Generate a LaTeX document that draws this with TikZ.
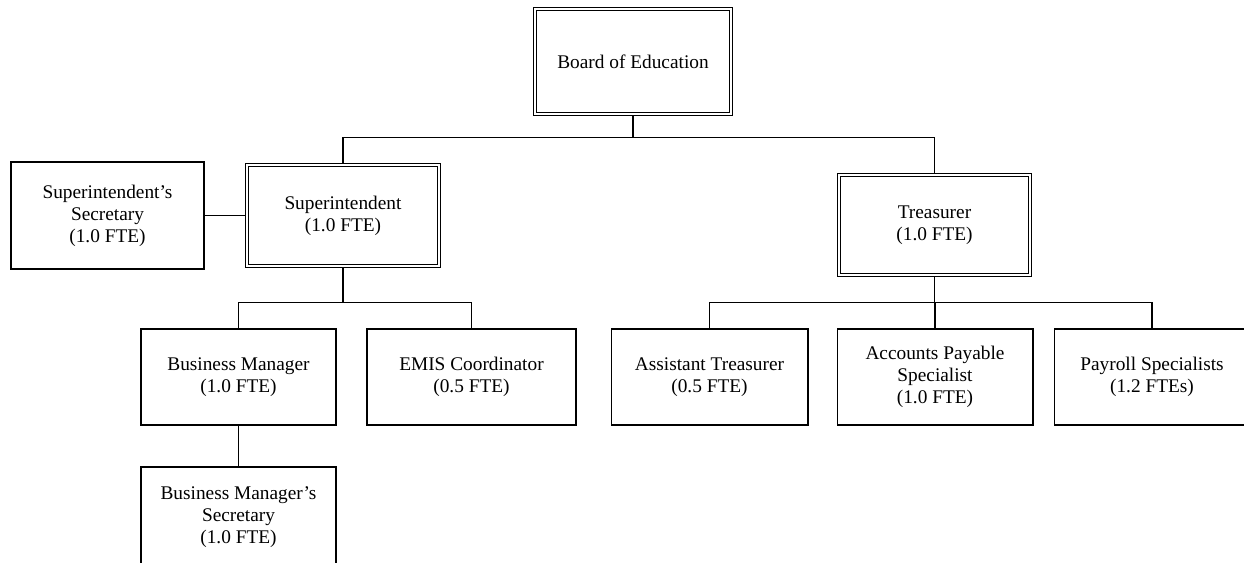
\documentclass[tikz,border=0pt]{standalone}
\usepackage{fontspec}
\setmainfont{Liberation Serif}

\tikzset{
	post/.style={draw,line width=0.6pt,align=center,font=\fontsize{11}{12.6}\selectfont,
		inner sep=2pt,outer sep=0pt},
	headpost/.style={post,line width=0.5pt,double,double distance=1.2pt,outer sep=1.1pt},
	link/.style={line width=0.6pt}
}

\begin{document}
\begin{tikzpicture}[x=0.02cm,y=-0.02cm]
			\clip (0,0) rectangle (1244,563);

			\node (board) at (633,61.5)[headpost,minimum width=3.92cm,minimum height=2.1cm]{Board of Education};
			\node (supt) at (343,215.5)[headpost,minimum width=3.84cm,minimum height=2.02cm]{Superintendent\\(1.0 FTE)};
			\node (treas) at (934.5,225)[headpost,minimum width=3.82cm,minimum height=2cm]{Treasurer\\(1.0 FTE)};
			\node (sec) at (107.5,215.5)[post,minimum width=3.86cm,minimum height=2.14cm]{Superintendent's\\Secretary\\(1.0 FTE)};

			\node (bm) at (238.5,377)[post,minimum width=3.9cm,minimum height=1.92cm]{Business Manager\\(1.0 FTE)};
			\node (emis) at (471.5,377)[post,minimum width=4.18cm,minimum height=1.92cm]{EMIS Coordinator\\(0.5 FTE)};
			\node (at) at (709.5,377)[post,minimum width=3.94cm,minimum height=1.92cm]{Assistant Treasurer\\(0.5 FTE)};
			\node (ap) at (935,377)[post,minimum width=3.92cm,minimum height=1.92cm]{Accounts Payable\\Specialist\\(1.0 FTE)};
			\node (pay) at (1152,377)[post,minimum width=3.92cm,minimum height=1.92cm]{Payroll Specialists\\(1.2 FTEs)};
			\node (bms) at (238.5,517)[post,minimum width=3.9cm,minimum height=2cm]{Business Manager's\\Secretary\\(1.0 FTE)};

			\draw[link] (board.south) -- ++(0,22) -| (supt.north);
			\draw[link] (board.south) -- ++(0,22) -| (treas.north);
			\draw[link] (sec.east) -- (supt.west);
			\draw[link] (supt.south) -- ++(0,35) -| (bm.north);
			\draw[link] (supt.south) -- ++(0,35) -| (emis.north);
			\draw[link] (treas.south) -- ++(0,26) -| (at.north);
			\draw[link] (treas.south) -- ++(0,26) -| (ap.north);
			\draw[link] (treas.south) -- ++(0,26) -| (pay.north);
			\draw[link] (bm.south) -- (bms.north);
		\end{tikzpicture}
\end{document}
